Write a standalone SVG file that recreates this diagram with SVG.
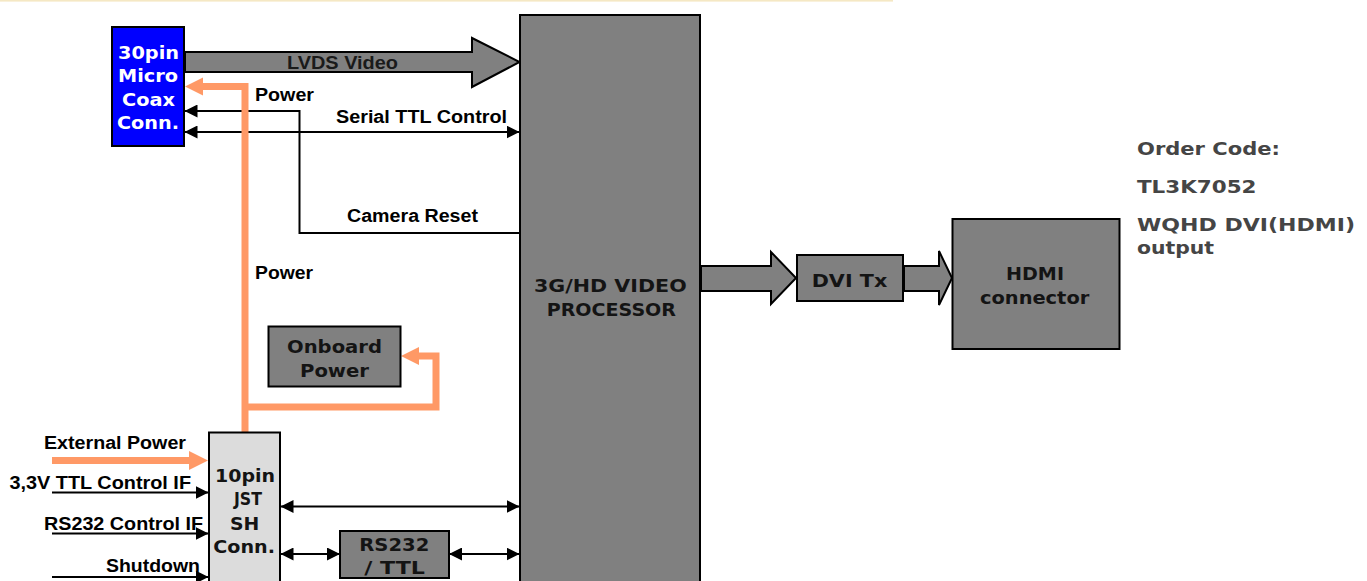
<svg xmlns="http://www.w3.org/2000/svg" width="1367" height="581" viewBox="0 0 1367 581">
<style>
.box{stroke:#000;stroke-width:2}
.gray{fill:#808080}
.lbl{font-family:"Liberation Sans",Arial,sans-serif;font-weight:bold;font-size:18px;fill:#000}
.bt{font-family:"DejaVu Sans",Verdana,sans-serif;font-weight:bold;font-size:17.5px;fill:#141414}
.wt{font-family:"DejaVu Sans",Verdana,sans-serif;font-weight:bold;font-size:17.5px;fill:#fff}
.oc{font-family:"DejaVu Sans",Verdana,sans-serif;font-weight:bold;font-size:18px;fill:#454545}
.ln{fill:none;stroke:#000;stroke-width:2}
.or{fill:none;stroke:#ff9966;stroke-width:7;stroke-linejoin:miter}
.oh{fill:#ff9966}
.big{fill:#808080;stroke:#000;stroke-width:2;stroke-linejoin:miter}
</style>
<defs>
<marker id="ah" markerUnits="userSpaceOnUse" markerWidth="13" markerHeight="13" refX="12.5" refY="6.5" orient="auto-start-reverse">
<path d="M0,0 L13,6.5 L0,13 z" fill="#000"/>
</marker>
</defs>
<rect x="0" y="0" width="893" height="1.6" fill="#f5e8c4"/>

<g id="connectors">
<polygon class="big" points="185,52 472,52 472,38 519.5,62 472,87 472,72 185,72"/>
<polygon class="big" points="701,266 771,266 771,252 796,278 771,304 771,291 701,291"/>
<polygon class="big" points="904,266 939,266 939,251 952,278 939,305 939,291 904,291"/>
<path class="ln" d="M519,233 H299.5 V111 H185" marker-end="url(#ah)"/>
<path class="ln" d="M185,132 H519" marker-start="url(#ah)" marker-end="url(#ah)"/>
<path class="ln" d="M52,492.5 H208" marker-end="url(#ah)"/>
<path class="ln" d="M52,533.5 H208" marker-end="url(#ah)"/>
<path class="ln" d="M52,577 H208" marker-end="url(#ah)"/>
<path class="ln" d="M281,506.5 H519" marker-start="url(#ah)" marker-end="url(#ah)"/>
<path class="ln" d="M281,554 H339.5" marker-start="url(#ah)" marker-end="url(#ah)"/>
<path class="ln" d="M449.5,554 H519" marker-start="url(#ah)" marker-end="url(#ah)"/>
<path class="or" d="M203,86.5 H245 V432"/>
<polygon class="oh" points="203,77.5 185,86.5 203,95.5"/>
<path class="or" d="M245,407 H436 V356 H419"/>
<polygon class="oh" points="419,347 401,356 419,365"/>
<path class="or" d="M52,460.5 H190"/>
<polygon class="oh" points="189,451 208,460.5 189,470"/>
<text class="lbl" x="287" y="69" textLength="111" lengthAdjust="spacingAndGlyphs" style="fill:#1a1a1a">LVDS Video</text>
<text class="lbl" x="255" y="101" textLength="59" lengthAdjust="spacingAndGlyphs">Power</text>
<text class="lbl" x="336" y="122.5" textLength="171" lengthAdjust="spacingAndGlyphs">Serial TTL Control</text>
<text class="lbl" x="347" y="221.5" textLength="131" lengthAdjust="spacingAndGlyphs">Camera Reset</text>
<text class="lbl" x="255" y="279" textLength="58" lengthAdjust="spacingAndGlyphs">Power</text>
<text class="lbl" x="44" y="449" textLength="142" lengthAdjust="spacingAndGlyphs">External Power</text>
<text class="lbl" x="9.5" y="489" textLength="181.5" lengthAdjust="spacingAndGlyphs">3,3V TTL Control IF</text>
<text class="lbl" x="44" y="530" textLength="159" lengthAdjust="spacingAndGlyphs">RS232 Control IF</text>
<text class="lbl" x="106" y="571.5" textLength="94" lengthAdjust="spacingAndGlyphs">Shutdown</text>
</g>

<g id="coax">
<rect class="box" x="112" y="27" width="72" height="119" fill="#0000ff"/>
<text class="wt" x="118" y="58.5" textLength="61" lengthAdjust="spacingAndGlyphs">30pin</text>
<text class="wt" x="118" y="82" textLength="60" lengthAdjust="spacingAndGlyphs">Micro</text>
<text class="wt" x="122" y="105.5" textLength="53" lengthAdjust="spacingAndGlyphs">Coax</text>
<text class="wt" x="117" y="129" textLength="62" lengthAdjust="spacingAndGlyphs">Conn.</text>
</g>

<g id="processor">
<rect class="box gray" x="520" y="15" width="180" height="580"/>
<text class="bt" x="534" y="292.3" textLength="152.7" lengthAdjust="spacingAndGlyphs">3G/HD VIDEO</text>
<text class="bt" x="546.7" y="316" textLength="129.3" lengthAdjust="spacingAndGlyphs">PROCESSOR</text>
</g>

<g id="onboard">
<rect class="box gray" x="268.5" y="326.5" width="132" height="60"/>
<text class="bt" x="287" y="353" textLength="95" lengthAdjust="spacingAndGlyphs">Onboard</text>
<text class="bt" x="300" y="376.7" textLength="69" lengthAdjust="spacingAndGlyphs">Power</text>
</g>

<g id="jst">
<rect class="box" x="209" y="432.5" width="71" height="160" fill="#dcdcdc"/>
<text class="bt" x="215" y="481.7" textLength="60" lengthAdjust="spacingAndGlyphs">10pin</text>
<text class="bt" x="234" y="505" textLength="28" lengthAdjust="spacingAndGlyphs">JST</text>
<text class="bt" x="230" y="529.5" textLength="29.3" lengthAdjust="spacingAndGlyphs">SH</text>
<text class="bt" x="213.3" y="552.5" textLength="61.7" lengthAdjust="spacingAndGlyphs">Conn.</text>
</g>

<g id="rs232">
<rect class="box gray" x="340" y="531" width="109" height="47"/>
<text class="bt" x="359.3" y="551" textLength="70" lengthAdjust="spacingAndGlyphs">RS232</text>
<text class="bt" x="364.3" y="574" textLength="60.7" lengthAdjust="spacingAndGlyphs">/ TTL</text>
</g>

<g id="dvitx">
<rect class="box gray" x="797" y="255" width="106" height="46"/>
<text class="bt" x="811.7" y="287.3" textLength="75.6" lengthAdjust="spacingAndGlyphs">DVI Tx</text>
</g>

<g id="hdmi">
<rect class="box gray" x="952.5" y="219" width="167" height="130"/>
<text class="bt" x="1006" y="280" textLength="58" lengthAdjust="spacingAndGlyphs">HDMI</text>
<text class="bt" x="980" y="304" textLength="109.3" lengthAdjust="spacingAndGlyphs">connector</text>
</g>

<g id="ordercode">
<text class="oc" x="1137" y="155" textLength="143" lengthAdjust="spacingAndGlyphs">Order Code:</text>
<text class="oc" x="1137" y="193" textLength="119.5" lengthAdjust="spacingAndGlyphs">TL3K7052</text>
<text class="oc" x="1137" y="231" textLength="218" lengthAdjust="spacingAndGlyphs">WQHD DVI(HDMI)</text>
<text class="oc" x="1137" y="254.3" textLength="77" lengthAdjust="spacingAndGlyphs">output</text>
</g>
</svg>
